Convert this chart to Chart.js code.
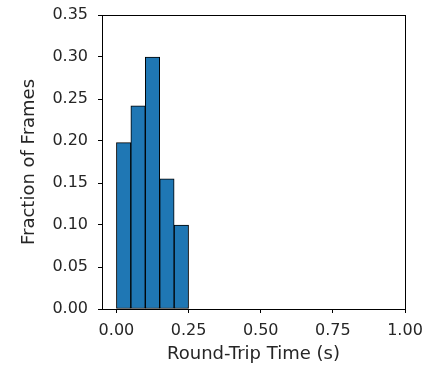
<!DOCTYPE html>
<html>
<head>
<meta charset="utf-8">
<script src="https://cdn.jsdelivr.net/npm/chart.js@4"></script>
<style>
html,body{margin:0;padding:0;background:#fff;}
#wrap{width:423px;height:365px;position:relative;}
</style>
</head>
<body>
<div id="wrap"><canvas id="c" width="423" height="365"></canvas></div>
<script>
const binCenters = [0.025, 0.075, 0.125, 0.175, 0.225];
const fractions = [0.198, 0.242, 0.300, 0.155, 0.100];
const xTicks = [0, 0.25, 0.5, 0.75, 1.0];
const yTicks = [0, 0.05, 0.10, 0.15, 0.20, 0.25, 0.30, 0.35];

const TICKFONT = {family: 'DejaVu Sans', size: 16};
const TITLEFONT = {family: 'DejaVu Sans', size: 18};
const TXT = '#262626';

const frame = {
  id: 'frame',
  afterDatasetsDraw(chart) {
    const a = chart.chartArea, ctx = chart.ctx;
    ctx.save();
    ctx.strokeStyle = '#000';
    ctx.lineWidth = 1;
    ctx.strokeRect(Math.round(a.left) + 0.5, Math.round(a.top) + 0.5,
      Math.round(a.right - a.left), Math.round(a.bottom - a.top));
    ctx.restore();
  }
};

new Chart(document.getElementById('c'), {
  type: 'bar',
  data: {
    datasets: [{
      data: binCenters.map((x, i) => ({x: x, y: fractions[i]})),
      backgroundColor: '#1f77b4',
      borderColor: '#000',
      borderWidth: 1,
      borderSkipped: false,
      barPercentage: 1,
      categoryPercentage: 1
    }]
  },
  options: {
    responsive: false,
    animation: false,
    layout: {padding: {top: 15, right: 18, left: 0, bottom: 0}},
    plugins: {legend: {display: false}, tooltip: {enabled: false}},
    scales: {
      x: {
        type: 'linear',
        offset: false,
        min: -0.05, max: 1.0,
        afterBuildTicks: s => { s.ticks = xTicks.map(v => ({value: v})); },
        afterFit: s => { s.height = 56; s.paddingLeft = 0; s.paddingRight = 0; },
        ticks: {font: TICKFONT, color: TXT, padding: 8, maxRotation: 0, autoSkip: false,
          callback: v => Number(v).toFixed(2)},
        grid: {drawOnChartArea: false, offset: false, tickLength: 4, color: '#000', tickWidth: 1},
        border: {display: true, color: '#000'},
        title: {display: true, text: 'Round-Trip Time (s)', font: TITLEFONT, color: TXT, padding: {top: 2, bottom: 0}}
      },
      y: {
        min: 0, max: 0.35,
        afterBuildTicks: s => { s.ticks = yTicks.map(v => ({value: v})); },
        afterFit: s => { s.width = 102; s.paddingTop = 0; s.paddingBottom = 0; },
        ticks: {font: TICKFONT, color: TXT, padding: 10, autoSkip: false,
          callback: v => Number(v).toFixed(2)},
        grid: {drawOnChartArea: false, tickLength: 4, color: '#000', tickWidth: 1},
        border: {display: true, color: '#000'},
        title: {display: true, text: 'Fraction of Frames', font: TITLEFONT, color: TXT, padding: {top: 19, bottom: 0}}
      }
    }
  },
  plugins: [frame]
});
</script>
</body>
</html>
